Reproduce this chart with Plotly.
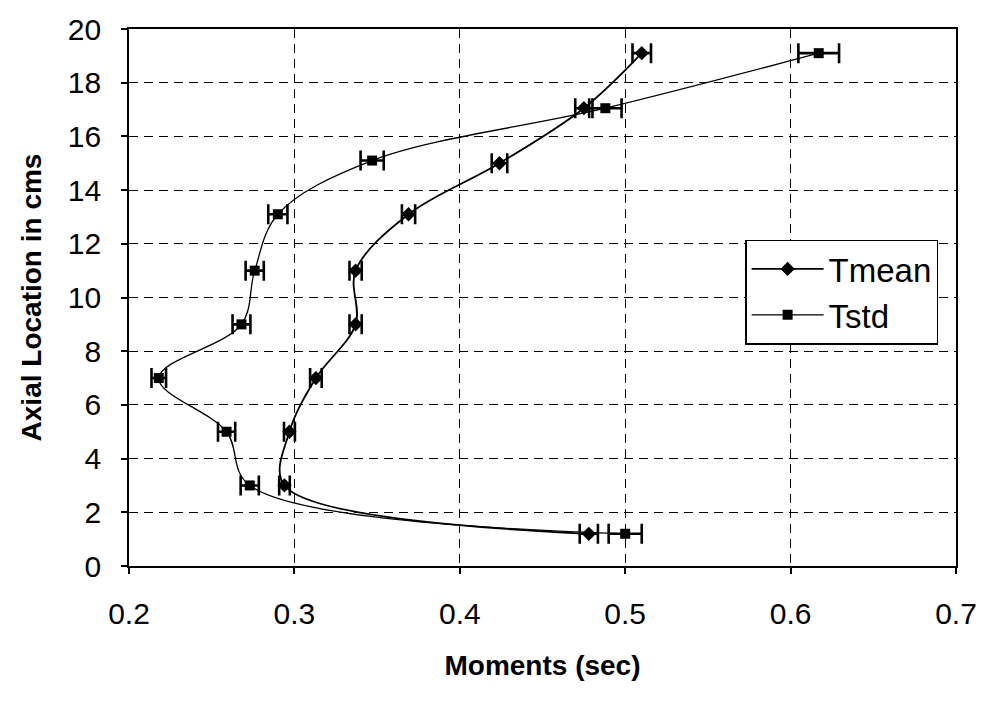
import plotly.graph_objects as go

# Axial positions (cm) along the column for each series
tmean_y = [1.2, 3.0, 5.0, 7.0, 9.0, 11.0, 13.1, 15.0, 17.05, 19.1]
tmean_x = [0.478, 0.294, 0.297, 0.313, 0.337, 0.337, 0.369, 0.424, 0.475, 0.510]
tmean_err = [0.0055, 0.0032, 0.0033, 0.0035, 0.0037, 0.0037, 0.0040, 0.0047, 0.0052, 0.0056]

tstd_y = [1.2, 3.0, 5.0, 7.0, 9.0, 11.0, 13.1, 15.1, 17.05, 19.1]
tstd_x = [0.500, 0.273, 0.259, 0.218, 0.268, 0.276, 0.290, 0.347, 0.488, 0.617]
tstd_err = [0.0100, 0.0055, 0.0052, 0.0044, 0.0054, 0.0055, 0.0058, 0.0070, 0.0098, 0.0123]

x_ticks = [0.2, 0.3, 0.4, 0.5, 0.6, 0.7]
y_ticks = [0, 2, 4, 6, 8, 10, 12, 14, 16, 18, 20]

FONT = "Liberation Sans, Arial, sans-serif"

fig = go.Figure()

fig.add_trace(go.Scatter(
    x=tmean_x, y=tmean_y, name="Tmean", mode="lines+markers",
    line=dict(color="black", width=1.8, shape="spline", smoothing=1.0),
    marker=dict(symbol="diamond", size=11, color="black"),
    error_x=dict(type="data", array=tmean_err, color="black", thickness=2.6, width=10),
))

fig.add_trace(go.Scatter(
    x=tstd_x, y=tstd_y, name="Tstd", mode="lines+markers",
    line=dict(color="black", width=1.3, shape="spline", smoothing=1.0),
    marker=dict(symbol="square", size=10, color="black"),
    error_x=dict(type="data", array=tstd_err, color="black", thickness=2.6, width=10),
))

axis_common = dict(
    showline=True, linecolor="black", linewidth=1.8, mirror=True,
    showgrid=True, gridcolor="black", gridwidth=1.4, griddash="9px,6px",
    ticks="outside", ticklen=6, tickwidth=1.5, tickcolor="black",
    zeroline=False,
    tickfont=dict(family=FONT, size=30, color="black"),
)

fig.update_xaxes(
    range=[0.2, 0.7], tickvals=x_ticks, ticktext=[f"{v:.1f}" for v in x_ticks],
    ticklabelstandoff=14,
    title=dict(text="<b>Moments (sec)</b>", font=dict(family=FONT, size=28, color="black"), standoff=26),
    **axis_common,
)
fig.update_yaxes(
    range=[0, 20], tickvals=y_ticks,
    ticklabelstandoff=14,
    title=dict(text="<b>Axial Location in cms</b>", font=dict(family=FONT, size=28, color="black"), standoff=18),
    **axis_common,
)

fig.update_layout(
    width=989, height=708,
    margin=dict(l=129, r=32, t=26, b=142),
    paper_bgcolor="white", plot_bgcolor="white",
    showlegend=True,
    legend=dict(
        x=0.745, y=0.608, xanchor="left", yanchor="top",
        bgcolor="white", bordercolor="black", borderwidth=1.5,
        font=dict(family=FONT, size=33, color="black"),
        itemwidth=72,
    ),
)

fig.write_html("out.html")
